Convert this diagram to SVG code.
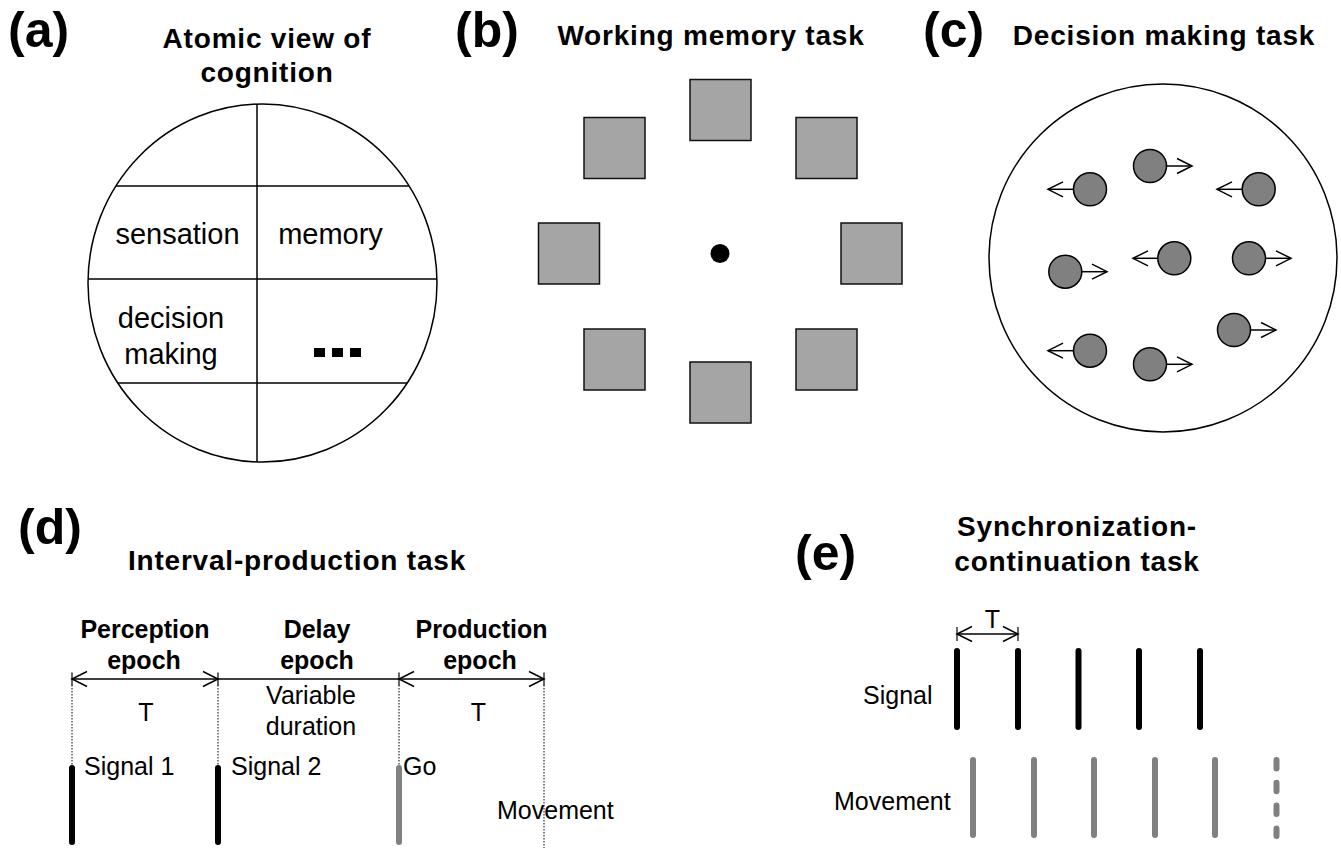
<svg xmlns="http://www.w3.org/2000/svg" width="1341" height="848" viewBox="0 0 1341 848">
<style>
text{font-family:"Liberation Sans",Arial,sans-serif;fill:#000}
.lbl{font-size:50px;font-weight:bold}
.ttl{font-size:28px;font-weight:bold;letter-spacing:0.8px;text-anchor:middle}
.hdr{font-size:25px;font-weight:bold;text-anchor:middle}
.t29{font-size:29px;text-anchor:middle}
.t25{font-size:25px}
.mid{text-anchor:middle}
.ln{stroke:#000;stroke-width:1.5;fill:none}
.sq{fill:#a5a5a5;stroke:#111;stroke-width:1.5}
.dot{fill:#808080;stroke:#000;stroke-width:1.5}
.arr{stroke:#000;stroke-width:1.5;fill:none;marker-end:url(#oa)}
.darr{stroke:#000;stroke-width:1.5;fill:none;marker-start:url(#oa);marker-end:url(#oa)}
.dotted{stroke:#000;stroke-width:1;stroke-dasharray:1.5 1.5;fill:none}
.bk{stroke:#000;stroke-width:6;stroke-linecap:round}
.gr{stroke:#808080;stroke-width:6;stroke-linecap:round}
</style>
<defs>
<marker id="oa" markerUnits="userSpaceOnUse" markerWidth="20" markerHeight="20" refX="15" refY="7.5" orient="auto-start-reverse" overflow="visible">
<path d="M0,0 L15,7.5 L0,15" fill="none" stroke="#000" stroke-width="1.5"/>
</marker>
<clipPath id="clipA"><ellipse cx="262.5" cy="283" rx="174.5" ry="179"/></clipPath>
</defs>

<!-- Panel (a) -->
<g id="panel-a">
<text class="lbl" x="8" y="47">(a)</text>
<text class="ttl" x="267" y="48">Atomic view of</text>
<text class="ttl" x="267" y="82">cognition</text>
<g id="atom-circle">
<ellipse class="ln" cx="262.5" cy="283" rx="174.5" ry="179"/>
<g clip-path="url(#clipA)" stroke="#000" stroke-width="1.5">
<line x1="257" y1="90" x2="257" y2="470"/>
<line x1="80" y1="186" x2="445" y2="186"/>
<line x1="80" y1="279" x2="445" y2="279"/>
<line x1="80" y1="383" x2="445" y2="383"/>
</g>
</g>
<g id="cell-sensation"><text class="t29" x="177.5" y="244">sensation</text></g>
<g id="cell-memory"><text class="t29" x="330.5" y="244">memory</text></g>
<g id="cell-decision"><text class="t29" x="171" y="328">decision</text><text class="t29" x="171" y="364">making</text></g>
<g id="cell-etc" fill="#000">
<rect x="314" y="348" width="11" height="9"/>
<rect x="332" y="348" width="11" height="9"/>
<rect x="350" y="348" width="11" height="9"/>
</g>
</g>

<!-- Panel (b) -->
<g id="panel-b">
<text class="lbl" x="455" y="47">(b)</text>
<text class="ttl" x="711" y="45">Working memory task</text>
<rect id="sq-top" class="sq" x="690" y="79.5" width="61" height="61"/>
<rect id="sq-ul" class="sq" x="584" y="117.5" width="61" height="61"/>
<rect id="sq-ur" class="sq" x="796" y="117.5" width="61" height="61"/>
<rect id="sq-l" class="sq" x="538.5" y="223" width="61" height="61"/>
<rect id="sq-r" class="sq" x="841" y="223" width="61" height="61"/>
<rect id="sq-ll" class="sq" x="584" y="329" width="61" height="61"/>
<rect id="sq-lr" class="sq" x="796" y="329" width="61" height="61"/>
<rect id="sq-bot" class="sq" x="690" y="362" width="61" height="61"/>
<circle id="fixation" cx="720" cy="253.5" r="9.5" fill="#000"/>
</g>

<!-- Panel (c) -->
<g id="panel-c">
<text class="lbl" x="923" y="47">(c)</text>
<text class="ttl" x="1164" y="45">Decision making task</text>
<circle id="aperture" class="ln" cx="1163" cy="258" r="174"/>
<g id="dot1"><circle class="dot" cx="1090" cy="189.3" r="16.5"/></g>
<g id="dot2"><circle class="dot" cx="1150" cy="166" r="16.5"/></g>
<g id="dot3"><circle class="dot" cx="1258.7" cy="189.3" r="16.5"/></g>
<g id="dot4"><circle class="dot" cx="1065.3" cy="271.7" r="16.5"/></g>
<g id="dot5"><circle class="dot" cx="1174.3" cy="258.3" r="16.5"/></g>
<g id="dot6"><circle class="dot" cx="1249" cy="258.3" r="16.5"/></g>
<g id="dot7"><circle class="dot" cx="1234" cy="330" r="16.5"/></g>
<g id="dot8"><circle class="dot" cx="1090" cy="350.7" r="16.5"/></g>
<g id="dot9"><circle class="dot" cx="1150" cy="364.3" r="16.5"/></g>
</g>

<!-- Panel (d) -->
<g id="panel-d">
<text class="lbl" x="18" y="544">(d)</text>
<text class="ttl" x="297" y="570">Interval-production task</text>
<g id="epoch-perception"><text class="hdr" x="145" y="638">Perception</text><text class="hdr" x="144" y="669">epoch</text></g>
<g id="epoch-delay"><text class="hdr" x="317" y="638">Delay</text><text class="hdr" x="317" y="669">epoch</text></g>
<g id="epoch-production"><text class="hdr" x="481.5" y="638">Production</text><text class="hdr" x="480" y="669">epoch</text></g>
<text class="t25 mid" x="146" y="721">T</text>
<text class="t25 mid" x="311" y="704">Variable</text>
<text class="t25 mid" x="311" y="735">duration</text>
<text class="t25 mid" x="478.5" y="721">T</text>
<g id="signal1"><line class="bk" x1="72" y1="768" x2="72" y2="842" stroke-width="5.5"/><text class="t25" x="84" y="775">Signal 1</text></g>
<g id="signal2"><line class="bk" x1="218" y1="768" x2="218" y2="842" stroke-width="5.5"/><text class="t25" x="231" y="775">Signal 2</text></g>
<g id="go"><line class="gr" x1="399" y1="768" x2="399" y2="842" stroke-width="5.5"/><text class="t25" x="403" y="775">Go</text></g>
<g id="movement-d"><text class="t25" x="497" y="819">Movement</text></g>
</g>

<!-- Panel (e) -->
<g id="panel-e">
<text class="lbl" x="795" y="570">(e)</text>
<text class="ttl" x="1077" y="536">Synchronization-</text>
<text class="ttl" x="1077" y="571">continuation task</text>
<text class="t25 mid" x="992.5" y="628">T</text>
<text class="t25" x="863" y="704">Signal</text>
<text class="t25" x="834" y="810">Movement</text>
<g id="signal-train">
<line class="bk" x1="957" y1="651" x2="957" y2="727"/>
<line class="bk" x1="1018" y1="651" x2="1018" y2="727"/>
<line class="bk" x1="1078.5" y1="651" x2="1078.5" y2="727"/>
<line class="bk" x1="1139" y1="651" x2="1139" y2="727"/>
<line class="bk" x1="1200" y1="651" x2="1200" y2="727"/>
</g>
<g id="movement-train">
<line class="gr" x1="973" y1="760" x2="973" y2="835" stroke-width="5.5"/>
<line class="gr" x1="1034" y1="760" x2="1034" y2="835" stroke-width="5.5"/>
<line class="gr" x1="1094" y1="760" x2="1094" y2="835" stroke-width="5.5"/>
<line class="gr" x1="1155" y1="760" x2="1155" y2="835" stroke-width="5.5"/>
<line class="gr" x1="1215" y1="760" x2="1215" y2="835" stroke-width="5.5"/>
<line class="gr" x1="1276.5" y1="760" x2="1276.5" y2="836" stroke-width="5" stroke-dasharray="8.5 14.3"/>
</g>
</g>

<!-- Connectors -->
<g id="connectors">
<line class="arr" x1="1073.5" y1="189.3" x2="1048" y2="189.3"/>
<line class="arr" x1="1166.5" y1="166" x2="1192" y2="166"/>
<line class="arr" x1="1242.2" y1="189.3" x2="1217" y2="189.3"/>
<line class="arr" x1="1081.8" y1="271.7" x2="1107" y2="271.7"/>
<line class="arr" x1="1157.8" y1="258.3" x2="1133" y2="258.3"/>
<line class="arr" x1="1265.5" y1="258.3" x2="1291" y2="258.3"/>
<line class="arr" x1="1250.5" y1="330" x2="1276" y2="330"/>
<line class="arr" x1="1073.5" y1="350.7" x2="1048" y2="350.7"/>
<line class="arr" x1="1166.5" y1="364.3" x2="1192" y2="364.3"/>

<line class="darr" x1="72" y1="679" x2="218" y2="679"/>
<line class="ln" x1="218" y1="679" x2="399" y2="679"/>
<line class="darr" x1="399" y1="679" x2="544" y2="679"/>
<g stroke="#000" stroke-width="1.2">
<line x1="72" y1="672.5" x2="72" y2="685.5"/>
<line x1="218" y1="672.5" x2="218" y2="685.5"/>
<line x1="399" y1="672.5" x2="399" y2="685.5"/>
<line x1="544" y1="672.5" x2="544" y2="685.5"/>
</g>
<line class="dotted" x1="72" y1="685" x2="72" y2="765"/>
<line class="dotted" x1="218" y1="685" x2="218" y2="765"/>
<line class="dotted" x1="399" y1="685" x2="399" y2="765"/>
<line class="dotted" x1="544" y1="685" x2="544" y2="848"/>

<line class="darr" x1="957" y1="634" x2="1018" y2="634"/>
<g stroke="#000" stroke-width="1.2">
<line x1="957" y1="627" x2="957" y2="641"/>
<line x1="1018" y1="627" x2="1018" y2="641"/>
</g>
</g>
</svg>
